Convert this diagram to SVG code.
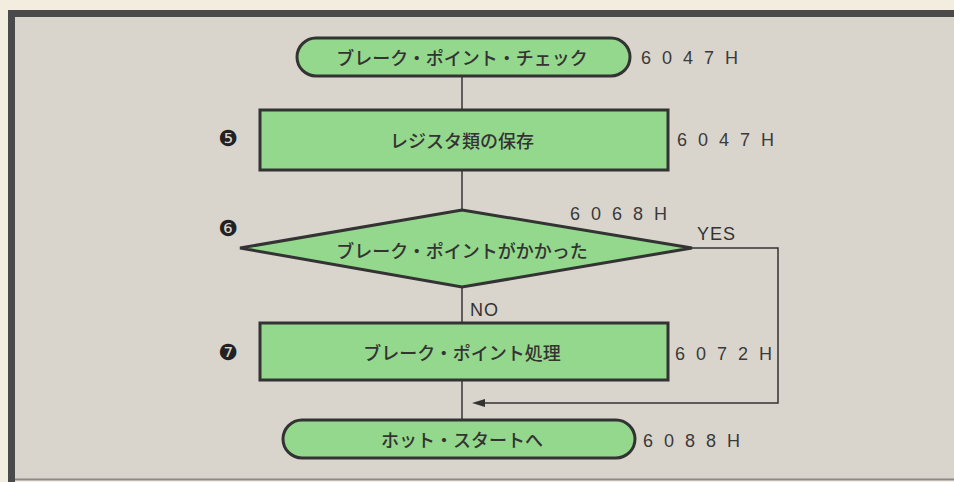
<svg xmlns="http://www.w3.org/2000/svg" width="954" height="482" viewBox="0 0 954 482">
<defs>
<style>
.n{fill:#93d88c;stroke:#333;stroke-width:3}
.t{font-family:"Noto Sans CJK JP","Liberation Sans",sans-serif;font-size:18px;font-weight:500;fill:#333;text-anchor:middle;dominant-baseline:central}
.a{font-family:"Liberation Sans",sans-serif;font-size:18px;fill:#3a3a3a;letter-spacing:11px;dominant-baseline:central}
.l{font-family:"Liberation Sans",sans-serif;font-size:18px;fill:#333;letter-spacing:1px;dominant-baseline:central}
.c{font-family:"DejaVu Sans",sans-serif;font-size:22px;fill:#222;text-anchor:middle;dominant-baseline:central}
.e{fill:none;stroke:#333;stroke-width:1.5}
</style>
</defs>
<rect width="954" height="482" fill="#f3ede0"/>
<rect x="15" y="17" width="939" height="462" fill="#d9d5cd"/>
<path d="M11.5,482 V13.5 H954" fill="none" stroke="#4a4a4a" stroke-width="7"/>
<line x1="15" y1="479.5" x2="954" y2="479.5" stroke="#8a8a88" stroke-width="2"/>
<g id="connectors">
<line class="e" x1="462" y1="76" x2="462" y2="110"/>
<line class="e" x1="462" y1="170" x2="462" y2="210"/>
<line class="e" x1="462" y1="287" x2="462" y2="323"/>
<line class="e" x1="462" y1="380" x2="462" y2="420"/>
<polyline class="e" points="692,248 778,248 778,403 484,403"/>
<path d="M472,403 L485,399 L485,407 Z" fill="#333"/>
<text class="l" x="697" y="234">YES</text>
<text class="l" x="470" y="310">NO</text>
</g>
<g id="start">
<rect class="n" x="297" y="38" width="333" height="38" rx="19"/>
<text class="t" x="462" y="57">ブレーク・ポイント・チェック</text>
<text class="a" x="641" y="58">6047H</text>
</g>
<g id="save">
<rect class="n" x="260" y="110" width="408" height="60"/>
<text class="t" x="462" y="140">レジスタ類の保存</text>
<text class="c" x="228" y="138">❺</text>
<text class="a" x="677" y="140">6047H</text>
</g>
<g id="decision">
<polygon class="n" points="462,210 692,248 462,287 240,248"/>
<text class="t" x="462" y="250">ブレーク・ポイントがかかった</text>
<text class="c" x="228" y="228">❻</text>
<text class="a" x="570" y="214">6068H</text>
</g>
<g id="process">
<rect class="n" x="260" y="323" width="408" height="57"/>
<text class="t" x="462" y="352">ブレーク・ポイント処理</text>
<text class="c" x="228" y="352">❼</text>
<text class="a" x="675" y="354">6072H</text>
</g>
<g id="end">
<rect class="n" x="283" y="420" width="352" height="38" rx="19"/>
<text class="t" x="462" y="439">ホット・スタートへ</text>
<text class="a" x="643" y="441">6088H</text>
</g>
</svg>
